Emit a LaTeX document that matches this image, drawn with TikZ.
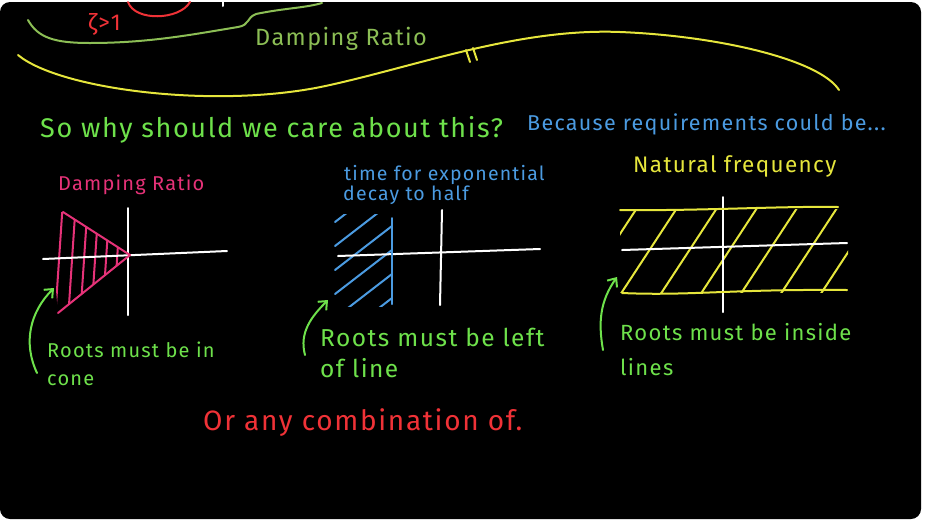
\documentclass[tikz,border=0pt]{standalone}
\usepackage{fontspec}
\setmainfont[LetterSpace=6]{Fira Sans}
\usetikzlibrary{arrows.meta, positioning, calc}
\definecolor{chalkgreen}{RGB}{110,225,75}
\definecolor{chalkblue}{RGB}{75,155,225}
\definecolor{chalkpink}{RGB}{230,50,120}
\definecolor{chalkyellow}{RGB}{230,230,60}
\definecolor{chalkolive}{RGB}{140,190,85}
\definecolor{chalkred}{RGB}{240,50,55}

\begin{document}
\begin{tikzpicture}[x=1pt, y=-1pt,
    chalk/.style={line width=2pt, line cap=round, line join=round},
    hand/.style={inner sep=0pt, anchor=base west, font=\fontsize{#1}{#1}\selectfont},
    pointer/.style={chalk, draw=chalkgreen, -{Straight Barb[length=7pt, width=12pt]}}
]
% board
\fill[white] (0,0) rectangle (925,523);
\fill[black, rounded corners=10pt] (0,2) rectangle (921,519);

% leftover from the previous page
\draw[chalk, draw=chalkred] (128,2) .. controls (135,22) and (180,20) .. (190,2);
\draw[chalk, draw=white] (223,2) -- (223,6);
\node[hand=23, text=chalkred] (ttlzeta) at (88,30) {ζ>1};
\draw[chalk, draw=chalkolive] (28,20) .. controls (38,38) and (55,43) .. (90,43)
    .. controls (150,43) and (195,34) .. (238,27) .. controls (250,25) and (246,18) .. (256,14)
    .. controls (285,8) and (305,8) .. (322,3);
\node[hand=23.5, text=chalkolive] (ttldamp) at (255,45) {Damping Ratio};
\draw[chalk, draw=chalkyellow] (18,55) .. controls (60,90) and (220,110) .. (330,85)
    .. controls (420,65) and (520,28) .. (620,32) .. controls (720,36) and (820,60) .. (839,90);
\draw[chalk, draw=chalkyellow] (466,50) -- (470,62);
\draw[chalk, draw=chalkyellow] (473,48) -- (477,60);

% question
\node[hand=27, text=chalkgreen] (qwhy) at (40,137) {So why should we care about this?};
\node[hand=21.5, text=chalkblue] (qreq) at (527,130) {Because requirements could be...};

% damping ratio cone
\node[hand=20, text=chalkpink] (ttlcone) at (58,190) {Damping Ratio};
\coordinate (ctop) at (63,212);
\coordinate (capex) at (130,255);
\coordinate (cbot) at (58,313);
\begin{scope}
    \clip (ctop) -- (capex) -- (cbot) -- (56,290) -- (60,212) -- cycle;
    \foreach \x in {63,76,88,99,110,121}
        \draw[chalk, draw=chalkpink] (\x,200) -- (\x-8,320);
\end{scope}
\draw[chalk, draw=white] (43,259) -- (227,251);
\draw[chalk, draw=white] (128,208) -- (128,315);
\draw[chalk, draw=chalkpink] (ctop) -- (capex) -- (cbot);
\node[hand=20, text=chalkgreen] (txtcone) at (47,357) {Roots must be in};
\node[hand=20, text=chalkgreen] (txtcone2) at (47,385) {cone};
\coordinate (p1s) at (37,373);
\coordinate (p1e) at (54,288);
\draw[pointer] (p1s) to[out=115, in=225] (p1e);

% decay to half
\node[hand=19.5, text=chalkblue] (ttlhalf) at (344,180) {time for exponential};
\node[hand=19.5, text=chalkblue] (ttlhalf2) at (343,200) {decay to half};
\begin{scope}
    \clip (334,214) rectangle (392,306);
    \foreach \y in {222,246,...,350}
        \draw[chalk, draw=chalkblue] (335,\y) -- (392,\y-44);
\end{scope}
\draw[chalk, draw=white] (338,256) -- (540,249);
\draw[chalk, draw=white] (442,210) -- (440,305);
\draw[chalk, draw=chalkblue] (392,218) -- (392,304);
\node[hand=24.5, text=chalkgreen] (txtleft) at (320,346) {Roots must be left};
\node[hand=24.5, text=chalkgreen] (txtleft2) at (320,377) {of line};
\coordinate (p2s) at (305,355);
\coordinate (p2e) at (328,300);
\draw[pointer] (p2s) to[out=105, in=225] (p2e);

% natural frequency
\node[hand=22.5, text=chalkyellow] (ttlfreq) at (633,172) {Natural frequency};
\begin{scope}
    \clip (620,209) rectangle (848,292);
    \foreach \x in {540,580,...,860}
        \draw[chalk, draw=chalkyellow] (\x,295) -- (\x+57,208);
\end{scope}
\draw[chalk, draw=white] (622,250) -- (847,243);
\draw[chalk, draw=white] (723,197) -- (723,312);
\draw[chalk, draw=chalkyellow] (620,210) .. controls (700,211) and (780,206) .. (838,207);
\draw[chalk, draw=chalkyellow] (622,293) .. controls (690,296) and (730,289) .. (847,290);
\node[hand=22, text=chalkgreen] (txtinside) at (620,340) {Roots must be inside};
\node[hand=22, text=chalkgreen] (txtinside2) at (620,375) {lines};
\coordinate (p3s) at (603,350);
\coordinate (p3e) at (617,277);
\draw[pointer] (p3s) to[out=100, in=235] (p3e);

\node[hand=28, text=chalkred] (txtcombo) at (203,430) {Or any combination of.};
\end{tikzpicture}
\end{document}
